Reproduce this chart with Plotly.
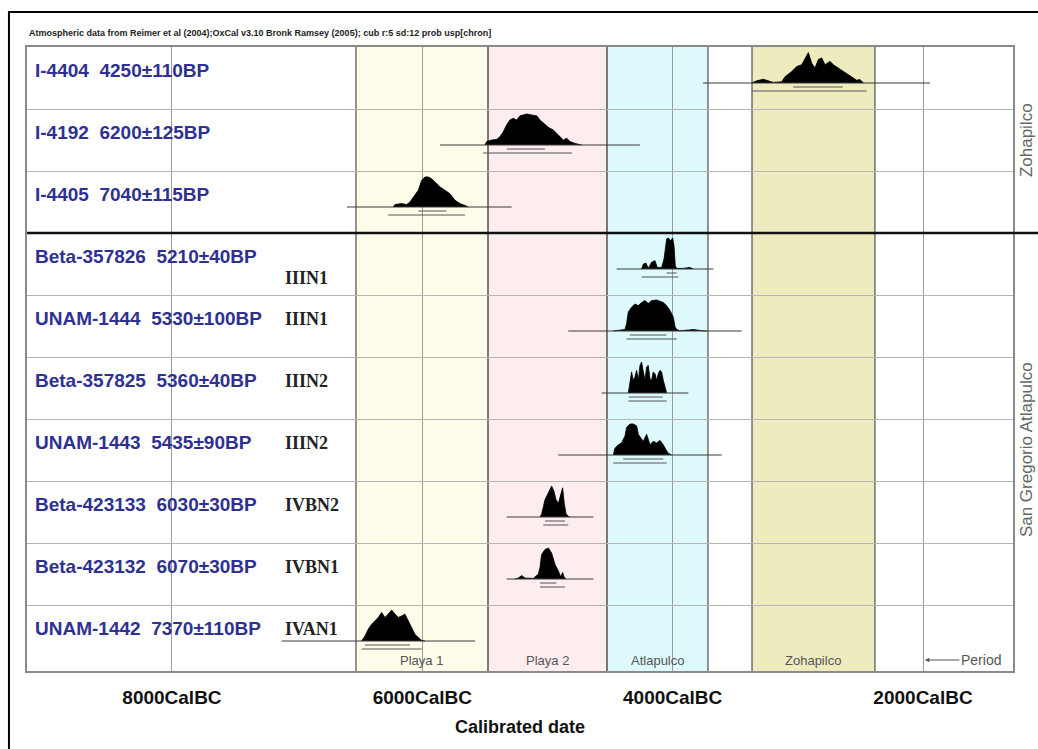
import plotly.graph_objects as go

# ---------------------------------------------------------------- data
SAMPLE_IDS = ["I-4404", "I-4192", "I-4405", "Beta-357826", "UNAM-1444",
              "Beta-357825", "UNAM-1443", "Beta-423133", "Beta-423132", "UNAM-1442"]
BP_AGE = [4250, 6200, 7040, 5210, 5330, 5360, 5435, 6030, 6070, 7370]
BP_ERR = [110, 125, 115, 40, 100, 40, 90, 30, 30, 110]
PHASES = ["", "", "", "IIIN1", "IIIN1", "IIIN2", "IIIN2", "IVBN2", "IVBN1", "IVAN1"]
SITES = ["Zohapilco", "San Gregorio Atlapulco"]
SITE_ROWS = [3, 7]          # number of samples in each site group

# calibrated probability distributions (years cal BC, relative probability)
DIST_YEARS = [
    [3369, 3329, 3275, 3236, 3196, 3129, 3103, 3049, 3009, 2969, 2943, 2916, 2889,
     2863, 2836, 2809, 2783, 2743, 2716, 2676, 2636, 2596, 2556, 2530, 2503, 2476],
    [5499, 5486, 5446, 5406, 5380, 5353, 5326, 5300, 5273, 5246, 5220, 5193, 5166,
     5126, 5086, 5060, 5033, 4993, 4953, 4913, 4873, 4847, 4820, 4780, 4727],
    [6232, 6218, 6165, 6125, 6099, 6072, 6032, 6005, 5979, 5952, 5925, 5899, 5859,
     5819, 5779, 5739, 5699, 5659, 5632],
    [4248, 4234, 4213, 4195, 4168, 4141, 4123, 4088, 4069, 4059, 4048, 4035, 4016,
     4000, 3989, 3979, 3968, 3915, 3862, 3835],
    [4474, 4421, 4381, 4368, 4354, 4328, 4301, 4274, 4248, 4221, 4195, 4168, 4128,
     4101, 4075, 4048, 4021, 3995, 3981, 3968, 3942, 3875, 3835, 3768, 3728],
    [4354, 4341, 4328, 4315, 4301, 4288, 4274, 4261, 4248, 4234, 4221, 4208, 4195,
     4181, 4168, 4155, 4141, 4128, 4115, 4101, 4088, 4075, 4061, 4048],
    [4474, 4461, 4434, 4408, 4381, 4368, 4341, 4315, 4288, 4274, 4256, 4234, 4208,
     4181, 4155, 4128, 4101, 4075, 4053, 4035, 4008],
    [5060, 5047, 5033, 5020, 4993, 4967, 4948, 4932, 4913, 4895, 4879, 4866, 4852,
     4834, 4820],
    [5260, 5233, 5206, 5180, 5113, 5073, 5060, 5047, 5020, 4993, 4967, 4940, 4913,
     4895, 4879, 4868, 4852],
    [6485, 6458, 6432, 6405, 6378, 6352, 6325, 6298, 6272, 6245, 6218, 6192, 6165,
     6139, 6112, 6085, 6059, 6032, 6005, 5979],
]
DIST_PROB = [
    [0, .07, .12, .07, .02, .04, .20, .37, .53, .59, .76, .98, .64,
     .48, .76, .81, .59, .70, .59, .48, .37, .26, .14, .09, .11, 0],
    [0, .11, .16, .18, .27, .43, .65, .81, .86, .81, .94, .97, 1.0,
     .97, .94, .81, .70, .57, .48, .32, .16, .22, .11, .05, 0],
    [0, .08, .11, .08, .16, .32, .54, .86, .97, .97, .91, .81, .65,
     .54, .43, .22, .11, .05, 0],
    [0, .16, .19, .02, .22, .27, .05, .05, .32, .75, .97, 1.0, .91,
     1.0, .75, .11, .02, .02, .05, 0],
    [0, .03, .05, .24, .61, .77, .87, .82, .92, .98, .89, .98, 1.0,
     .96, .92, .82, .66, .45, .14, .05, .01, .03, .05, .01, 0],
    [0, .41, .68, .41, .52, .73, .41, .89, 1.0, .68, .41, .84, .89,
     .46, .41, .68, .62, .41, .62, .73, .68, .41, .19, 0],
    [0, .22, .33, .39, .61, .89, 1.0, 1.0, .94, .67, .56, .44, .67,
     .33, .44, .39, .47, .33, .17, .06, 0],
    [0, .09, .33, .56, .78, 1.0, .83, .56, .44, .72, .94, .44, .11,
     .02, 0],
    [0, .03, .11, .03, .02, .16, .37, .79, .95, 1.0, .84, .47, .26,
     .07, .21, .07, 0],
    [0, .16, .38, .54, .65, .76, .92, .76, .87, 1.0, .87, .76, .81,
     .87, .65, .43, .22, .11, .02, 0],
]
# plotted calibration range and 68.2% / 95.4% ranges (cal BC)
CAL_RANGE = [(3758, 1944), (5859, 4261), (6602, 5286), (4447, 3675), (4834, 3449),
             (4567, 3875), (4914, 3608), (5326, 4634), (5326, 4634), (7124, 5579)]
SIGMA1 = [(3036, 2641), (5324, 5020), (6032, 5806), (4048, 3968), (4340, 4050),
          (4350, 4080), (4395, 4075), (5020, 4860), (5060, 4930), (6458, 6098)]
SIGMA2 = [(3369, 2450), (5515, 4804), (6272, 5659), (4248, 3955), (4368, 3968),
          (4354, 4048), (4474, 4048), (5033, 4834), (5060, 4860), (6485, 6005)]

PERIOD_NAMES = ["Playa 1", "Playa 2", "Atlapulco", "Zohapilco"]
PERIOD_START = [6530, 5475, 4525, 3366]
PERIOD_END = [5475, 4525, 3718, 2384]

TICK_YEARS = [8000, 6000, 4000, 2000]
TICK_TEXT = [f"{y}CalBC" for y in TICK_YEARS]

HEADER = ("Atmospheric data from Reimer et al (2004);OxCal v3.10 Bronk Ramsey (2005); "
          "cub r:5 sd:12 prob usp[chron]")

# ---------------------------------------------------------------- layout constants
ROW_H = 62            # row height (axis units = pixels)
PLOT_H = 624
BASE_DY = 36          # baseline offset inside a row
PEAK = 31             # height of a full-probability peak
X_RANGE = [9158, 1281]
PERIOD_FILL = ["#FFFDE9", "#FDEDEE", "#DDF9FC", "#EEEBBF"]
LABEL_BLUE = "#2E3192"
SANS = "Liberation Sans, Arial, sans-serif"
SERIF = "Liberation Serif, Times New Roman, serif"

fig = go.Figure()
shapes = []
annotations = []

# period bands
for s, e, c in zip(PERIOD_START, PERIOD_END, PERIOD_FILL):
    shapes.append(dict(type="rect", xref="x", yref="y", x0=s, x1=e, y0=0, y1=PLOT_H,
                       fillcolor=c, line=dict(width=0), layer="below"))
for s, e in zip(PERIOD_START, PERIOD_END):
    for xv in (s, e):
        shapes.append(dict(type="line", xref="x", yref="y", x0=xv, x1=xv, y0=0, y1=PLOT_H,
                           line=dict(color="#707070", width=1.5), layer="below"))

# calibrated distributions
for i in range(len(SAMPLE_IDS)):
    base = i * ROW_H + BASE_DY
    xs = DIST_YEARS[i]
    ys = [base - p * PEAK for p in DIST_PROB[i]]
    fig.add_trace(go.Scatter(x=[xs[0]] + xs + [xs[-1]], y=[base] + ys + [base],
                             mode="lines", fill="toself", fillcolor="#000000",
                             line=dict(color="#000000", width=0.8),
                             hoverinfo="skip", showlegend=False))
    r0, r1 = CAL_RANGE[i]
    fig.add_trace(go.Scatter(x=[r0, r1], y=[base, base], mode="lines",
                             line=dict(color="#3a3a3a", width=1),
                             hoverinfo="skip", showlegend=False))
    for (a, b), dy in ((SIGMA1[i], 4), (SIGMA2[i], 8)):
        fig.add_trace(go.Scatter(x=[a, b], y=[base + dy, base + dy], mode="lines",
                                 line=dict(color="#555555", width=1),
                                 hoverinfo="skip", showlegend=False))

# sample and phase labels
for i, (sid, age, err, ph) in enumerate(zip(SAMPLE_IDS, BP_AGE, BP_ERR, PHASES)):
    top = i * ROW_H
    annotations.append(dict(xref="paper", yref="y", x=0.006, y=top + 23,
                            xanchor="left", yanchor="middle", showarrow=False,
                            text=f"<b>{sid}\u00a0\u00a0{age}±{err}BP</b>",
                            font=dict(family=SANS, size=19, color=LABEL_BLUE)))
    if ph:
        dy = 45 if i == 3 else 24
        annotations.append(dict(xref="paper", yref="y", x=0.26, y=top + dy,
                                xanchor="left", yanchor="middle", showarrow=False,
                                text=f"<b>{ph}</b>",
                                font=dict(family=SERIF, size=18, color="#222222")))

# period names along the bottom
for name, s, e in zip(PERIOD_NAMES, PERIOD_START, PERIOD_END):
    annotations.append(dict(xref="x", yref="y", x=(s + e) / 2, y=613, showarrow=False,
                            text=name, font=dict(family=SANS, size=13, color="#555555")))
annotations.append(dict(xref="x", yref="y", x=1985, y=613, ax=56, ay=0,
                        axref="pixel", ayref="pixel", showarrow=True,
                        arrowhead=2, arrowsize=0.9, arrowwidth=1, arrowcolor="#555555",
                        text="Period", font=dict(family=SANS, size=14, color="#555555")))

# site group labels on the right
start = 0
for site, n in zip(SITES, SITE_ROWS):
    annotations.append(dict(xref="paper", yref="y", x=1.0133, y=(start + n / 2) * ROW_H,
                            xanchor="center", yanchor="middle", showarrow=False,
                            textangle=-90, text=site,
                            font=dict(family=SANS, size=17, color="#666666")))
    start += n

# divider between site groups
shapes.append(dict(type="line", xref="paper", yref="y", x0=0, x1=1.04,
                   y0=SITE_ROWS[0] * ROW_H, y1=SITE_ROWS[0] * ROW_H,
                   line=dict(color="#111111", width=2.5), layer="above"))
# outer frame
shapes.append(dict(type="rect", xref="paper", yref="paper", x0=-0.0183, x1=1.06,
                   y0=-0.15, y1=1.0561, line=dict(color="#000000", width=2),
                   fillcolor="rgba(0,0,0,0)", layer="above"))

annotations.append(dict(xref="paper", yref="paper", x=0.0, y=1.022, xanchor="left",
                        yanchor="middle", showarrow=False, text=f"<b>{HEADER}</b>",
                        font=dict(family=SANS, size=9, color="#222222")))

fig.update_layout(
    template="none",
    width=1038, height=749,
    margin=dict(l=27, r=25, t=47, b=78, autoexpand=False),
    paper_bgcolor="white", plot_bgcolor="white",
    font=dict(family=SANS, color="#111111"),
    showlegend=False,
    shapes=shapes, annotations=annotations,
    xaxis=dict(range=X_RANGE, tickvals=TICK_YEARS, ticktext=TICK_TEXT,
               showgrid=True, gridcolor="#9a9a9a", gridwidth=1, zeroline=False,
               ticks="", ticklabelstandoff=8,
               tickfont=dict(family=SANS, size=19, color="#111111", weight="bold"),
               showline=True, mirror=True, linecolor="#8a8a8a", linewidth=1.5,
               title=dict(text="<b>Calibrated date</b>", standoff=14,
                          font=dict(family=SANS, size=18, color="#111111")),
               automargin=False, fixedrange=True),
    yaxis=dict(range=[PLOT_H, 0], tickvals=[ROW_H * k for k in range(1, 10)],
               showticklabels=False, ticks="", showgrid=True, gridcolor="#b5b5b5",
               gridwidth=1, zeroline=False, showline=True, mirror=True,
               linecolor="#8a8a8a", linewidth=1.5, automargin=False, fixedrange=True),
)

fig.write_html("out.html")
